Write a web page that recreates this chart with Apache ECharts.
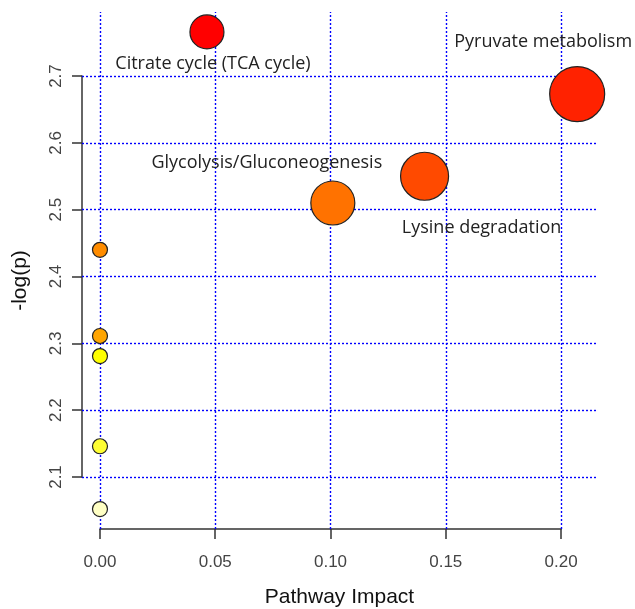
<!DOCTYPE html>
<html>
<head>
<meta charset="utf-8">
<script src="https://cdn.jsdelivr.net/npm/echarts@6/dist/echarts.min.js"></script>
<style>
html,body{margin:0;padding:0;background:#fff;}
#chart{width:635px;height:609px;}
</style>
</head>
<body>
<div id="chart"></div>
<script>
// ---- data ----
const pathways = ['Citrate cycle (TCA cycle)', 'Pyruvate metabolism', 'Lysine degradation', 'Glycolysis/Gluconeogenesis', '', '', '', '', ''];
const impact = [0.0464, 0.207, 0.1408, 0.101, 0, 0, 0, 0, 0];
const negLogP = [2.766, 2.673, 2.550, 2.510, 2.440, 2.311, 2.281, 2.146, 2.052];
const bubbleSize = [34, 55, 48, 44, 15, 15, 15, 15, 15];
const bubbleColor = ['#FF0000', '#FF2200', '#FF4A00', '#FF7200', '#FF8C00', '#FFA500', '#FFFF00', '#FFFF33', '#FFFFC4'];
const xTicks = [0, 0.05, 0.10, 0.15, 0.20];
const yTicks = [2.1, 2.2, 2.3, 2.4, 2.5, 2.6, 2.7];
const xTitle = 'Pathway Impact';
const yTitle = '-log(p)';

// ---- layout / style ----
const W = 635, H = 609;
const plot = {left: 82, right: 38, top: 12, bottom: 80};
const xMin = -0.0078, xMax = 0.2156, yMin = 2.0222, yMax = 2.7958;
const plotW = W - plot.left - plot.right, plotH = H - plot.top - plot.bottom;
const xPx = v => plot.left + (v - xMin) / (xMax - xMin) * plotW;
const yPx = v => plot.top + (yMax - v) / (yMax - yMin) * plotH;
const xStep = xTicks[1] - xTicks[0];
const yStep = +(yTicks[1] - yTicks[0]).toFixed(10);

const labelOffset = {
  'Citrate cycle (TCA cycle)': [6, 32],
  'Pyruvate metabolism': [-34, -52],
  'Lysine degradation': [57, 52],
  'Glycolysis/Gluconeogenesis': [-66, -40]
};
const gridStyle = {color: '#0000FF', width: 1.4, type: [2, 2]};
const axisColor = '#333';
const tickFont = {fontFamily: 'Liberation Sans', fontSize: 17, color: '#444'};
const titleFont = {fontFamily: 'Liberation Sans', fontSize: 21, color: '#111'};

const points = impact.map((x, i) => ({
  name: pathways[i],
  value: [x, negLogP[i]],
  symbolSize: bubbleSize[i],
  itemStyle: {color: bubbleColor[i]},
  label: pathways[i] ? {show: true, offset: labelOffset[pathways[i]] || [0, 0]} : {show: false}
}));

const gridLines = [];
xTicks.forEach(v => gridLines.push({xAxis: v}));
yTicks.forEach(v => gridLines.push({yAxis: v}));

const chart = echarts.init(document.getElementById('chart'), null, {renderer: 'canvas'});
chart.setOption({
  animation: false,
  backgroundColor: '#fff',
  grid: [
    // main plot region
    Object.assign({outerBoundsMode: 'none', containLabel: false}, plot),
    // x-axis ruler spanning first..last x tick
    {outerBoundsMode: 'none', containLabel: false,
     left: xPx(xTicks[0]), right: W - xPx(xTicks[xTicks.length - 1]), top: plot.top, bottom: plot.bottom},
    // y-axis ruler spanning first..last y tick
    {outerBoundsMode: 'none', containLabel: false,
     left: plot.left, right: plot.right, top: yPx(yTicks[yTicks.length - 1]), bottom: H - yPx(yTicks[0])}
  ],
  xAxis: [
    {gridIndex: 0, type: 'value', min: xMin, max: xMax,
     axisLine: {show: false}, axisTick: {show: false}, axisLabel: {show: false}, splitLine: {show: false},
     name: xTitle, nameLocation: 'middle', nameGap: 58, nameTextStyle: titleFont},
    {gridIndex: 1, type: 'value', min: xTicks[0], max: xTicks[xTicks.length - 1], interval: xStep,
     axisLine: {show: true, lineStyle: {color: axisColor, width: 1.5}},
     axisTick: {show: true, length: 10, lineStyle: {color: axisColor, width: 1.5}},
     axisLabel: Object.assign({formatter: v => v.toFixed(2), margin: 25, showMinLabel: true, showMaxLabel: true}, tickFont),
     splitLine: {show: false}},
    {gridIndex: 2, type: 'value', show: false}
  ],
  yAxis: [
    {gridIndex: 0, type: 'value', min: yMin, max: yMax,
     axisLine: {show: false}, axisTick: {show: false}, axisLabel: {show: false}, splitLine: {show: false}},
    {gridIndex: 1, type: 'value', show: false},
    {gridIndex: 2, type: 'value', min: yTicks[0], max: yTicks[yTicks.length - 1], interval: yStep,
     axisLine: {show: true, lineStyle: {color: axisColor, width: 1.5}},
     axisTick: {show: true, length: 10, lineStyle: {color: axisColor, width: 1.5}},
     axisLabel: Object.assign({formatter: v => v.toFixed(1), margin: 17, rotate: 90, showMinLabel: true, showMaxLabel: true}, tickFont),
     splitLine: {show: false},
     name: yTitle, nameLocation: 'middle', nameGap: 51, nameRotate: 90,
     nameTextStyle: Object.assign({padding: [0, 8, 0, 0]}, titleFont)}
  ],
  series: [
    {
      type: 'scatter', xAxisIndex: 0, yAxisIndex: 0, data: [], z: 1, silent: true,
      markLine: {silent: true, symbol: 'none', label: {show: false}, lineStyle: gridStyle, data: gridLines, z: 1}
    },
    {
      type: 'scatter', xAxisIndex: 0, yAxisIndex: 0, z: 3,
      data: points,
      itemStyle: {borderColor: '#222', borderWidth: 1.2, opacity: 1},
      label: {position: 'inside', formatter: p => p.name, fontFamily: 'Open Sans', fontSize: 18, color: '#222'}
    }
  ]
});
</script>
</body>
</html>
